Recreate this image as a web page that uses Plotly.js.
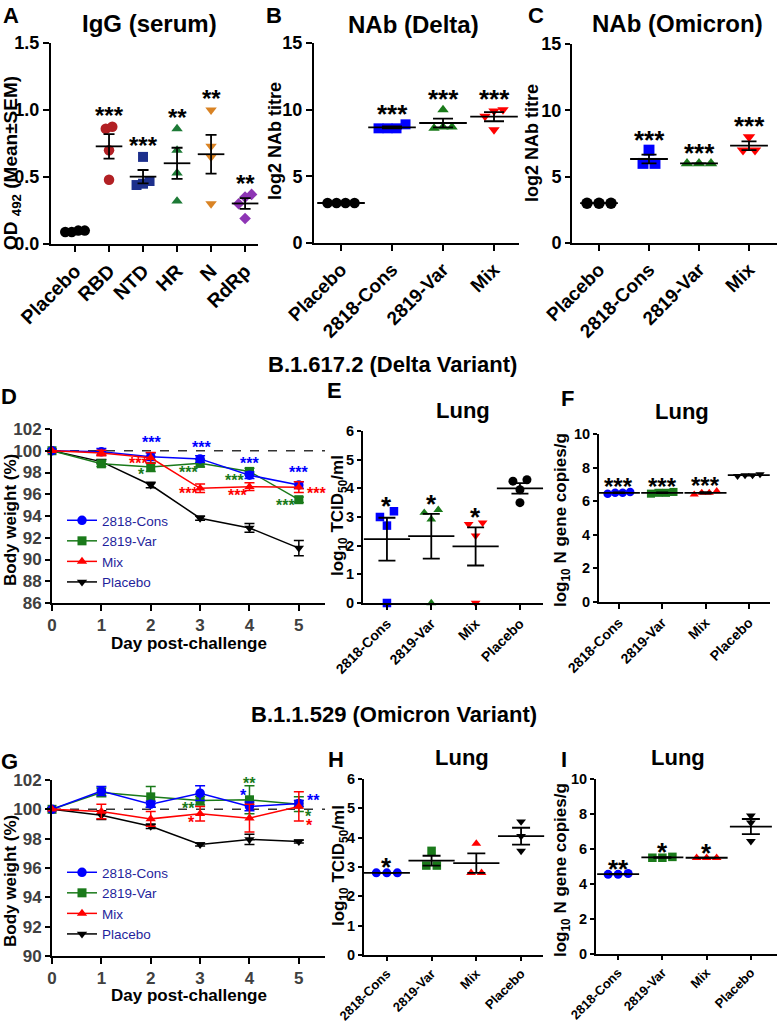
<!DOCTYPE html>
<html><head><meta charset="utf-8">
<script src="https://cdn.plot.ly/plotly-3.0.1.min.js"></script>
<style>html,body{margin:0;padding:0;background:#fff}#chart{width:778px;height:1021px}</style>
</head><body><div id="chart"></div>
<script>
const W = 778, H = 1021;
const FONT = '"Liberation Sans", Arial, Helvetica, sans-serif';

// ===== DATA =====
// Panel A: IgG (serum), OD492
const catsA = ['Placebo', 'RBD', 'NTD', 'HR', 'N', 'RdRp'];
const iggPlacebo = [0.10, 0.09, 0.09, 0.10];
const iggRBD = [0.86, 0.875, 0.70, 0.48];
const iggNTD = [0.65, 0.47, 0.45, 0.44];
const iggHR = [0.86, 0.70, 0.53, 0.32];
const iggN = [1.00, 0.73, 0.65, 0.30];
const iggRdRp = [0.35, 0.37, 0.30, 0.19];
const sigA = ['', '***', '***', '**', '**', '**'];

// Panel B: NAb (Delta), log2 titre
const catsNAb = ['Placebo', '2818-Cons', '2819-Var', 'Mix'];
const nabDeltaPlacebo = [3, 3, 3, 3];
const nabDeltaCons = [8.6, 8.6, 8.9, 8.6];
const nabDeltaVar = [10.0, 8.7, 8.6, 8.7];
const nabDeltaMix = [10.0, 9.9, 9.5, 8.5];
const sigB = ['', '***', '***', '***'];

// Panel C: NAb (Omicron), log2 titre
const nabOmiPlacebo = [3, 3, 3];
const nabOmiCons = [7, 6, 6];
const nabOmiVar = [6, 6, 6];
const nabOmiMix = [8, 7, 7];
const sigC = ['', '***', '***', '***'];

// Panels D & G: body weight (%) by day post-challenge
const days = [0, 1, 2, 3, 4, 5];
const dayLabels = ['0', '1', '2', '3', '4', '5'];
const bodyWeightRef = 100;
const bwDeltaCons = [100, 99.9, 99.45, 99.25, 97.75, 96.85];
const bwDeltaConsErr = [0, 0.3, 0.35, 0.3, 0.3, 0.3];
const bwDeltaVar = [100, 98.8, 98.5, 98.85, 98.1, 95.5];
const bwDeltaVarErr = [0, 0.25, 0.4, 0.35, 0.3, 0.25];
const bwDeltaMix = [100, 99.8, 99.35, 96.55, 96.7, 96.65];
const bwDeltaMixErr = [0, 0.25, 0.5, 0.4, 0.35, 0.5];
const bwDeltaPlacebo = [100, 99.0, 96.85, 93.8, 92.9, 91.05];
const bwDeltaPlaceboErr = [0, 0.2, 0.25, 0.2, 0.4, 0.7];

const bwOmiCons = [100, 101.25, 100.35, 101.1, 100.2, 100.4];
const bwOmiConsErr = [0, 0.3, 0.2, 0.5, 0.3, 0.2];
const bwOmiVar = [100, 101.15, 100.85, 100.6, 100.65, 100.35];
const bwOmiVarErr = [0, 0.3, 0.7, 0.3, 0.95, 0.5];
const bwOmiMix = [100, 99.85, 99.35, 99.7, 99.4, 100.2];
const bwOmiMixErr = [0, 0.5, 0.5, 0.5, 0.95, 1.0];
const bwOmiPlacebo = [100, 99.6, 98.85, 97.6, 97.95, 97.8];
const bwOmiPlaceboErr = [0, 0.3, 0.15, 0.1, 0.35, 0.1];

// Significance labels on the body weight panels
const sigD = [
  {g: 'cons', t: '***', x: 2.02, y: 101.15}, {g: 'cons', t: '***', x: 3.02, y: 100.68},
  {g: 'cons', t: '***', x: 4.0, y: 99.15}, {g: 'cons', t: '***', x: 5.0, y: 98.38},
  {g: 'mix', t: '***', x: 1.75, y: 99.15}, {g: 'var', t: '*', x: 1.82, y: 98.17},
  {g: 'var', t: '***', x: 2.76, y: 98.38}, {g: 'mix', t: '***', x: 2.76, y: 96.4},
  {g: 'var', t: '***', x: 3.70, y: 97.6}, {g: 'mix', t: '***', x: 3.75, y: 96.2},
  {g: 'var', t: '***', x: 4.72, y: 95.3}, {g: 'mix', t: '***', x: 5.36, y: 96.45}
];
const sigG = [
  {g: 'cons', t: '***', x: 3.06, y: 102.07}, {g: 'var', t: '**', x: 4.0, y: 102.0},
  {g: 'cons', t: '*', x: 3.87, y: 101.2}, {g: 'var', t: '**', x: 2.76, y: 100.3},
  {g: 'mix', t: '*', x: 2.83, y: 99.39}, {g: 'cons', t: '**', x: 5.29, y: 100.86},
  {g: 'var', t: '*', x: 5.19, y: 99.77}, {g: 'mix', t: '*', x: 5.21, y: 99.16}
];

// Panels E & H: lung log10 TCID50/ml ; F & I: lung log10 N gene copies/g
const catsLung = ['2818-Cons', '2819-Var', 'Mix', 'Placebo'];
const tcidDeltaCons = [3.0, 3.2, 2.7, 0];
const tcidDeltaVar = [3.15, 3.25, 2.92, 0];
const tcidDeltaMix = [2.75, 2.8, 2.35, 0];
const tcidDeltaPlacebo = [4.25, 4.3, 3.95, 3.5];
const sigE = ['*', '*', '*', ''];

const ngDeltaCons = [6.5, 6.45, 6.55, 6.5];
const ngDeltaVar = [6.5, 6.45, 6.55, 6.5];
const ngDeltaMix = [6.5, 6.4, 6.6, 6.5];
const ngDeltaPlacebo = [7.55, 7.5, 7.6, 7.55];
const sigF = ['***', '***', '***', ''];

const tcidOmiCons = [2.8, 2.8, 2.8];
const tcidOmiVar = [3.55, 3.05, 3.05];
const tcidOmiMix = [3.8, 2.8, 2.8];
const tcidOmiPlacebo = [4.55, 4.05, 3.55];
const sigH = ['*', '', '', ''];

const ngOmiCons = [4.6, 4.55, 4.55];
const ngOmiVar = [5.55, 5.5, 5.5];
const ngOmiMix = [5.5, 5.5, 5.5];
const ngOmiPlacebo = [7.9, 7.5, 6.45];
const sigI = ['**', '*', '*', ''];

// ===== STYLE =====
const COL = {cons: '#0000ff', var: '#1a7a1a', mix: '#ff0000', placebo: '#000000'};
const colA = ['#000000', '#b22024', '#1c2f8c', '#1d7a36', '#d98324', '#8e35b5'];
const SYM_SCALE = {'circle': 1, 'square': 0.95, 'triangle-up': 0.95, 'triangle-down': 0.95, 'diamond': 0.85};

const mean = a => a.reduce((s, v) => s + v, 0) / a.length;
const sem = a => { const m = mean(a); return Math.sqrt(a.reduce((s, v) => s + (v - m) * (v - m), 0) / (a.length - 1)) / Math.sqrt(a.length); };

function swarm(vals, center, ppy, ppx, spacingPx, thrPx) {
  const idx = vals.map((v, i) => i).sort((a, b) => vals[a] - vals[b] || a - b);
  const clusters = []; let cur = [idx[0]];
  for (let k = 1; k < idx.length; k++) {
    const i = idx[k], p = cur[cur.length - 1];
    if ((vals[i] - vals[p]) * ppy < thrPx) cur.push(i); else { clusters.push(cur); cur = [i]; }
  }
  clusters.push(cur);
  const xs = new Array(vals.length);
  clusters.forEach(c => c.forEach((i, k) => { xs[i] = center + (k - (c.length - 1) / 2) * spacingPx / ppx; }));
  return xs;
}

const axName = id => (id[0] === 'x' ? 'xaxis' : 'yaxis') + id.slice(1);
const data = [], annotations = [], shapes = [];
const layout = {
  width: W, height: H, margin: {l: 0, r: 0, t: 0, b: 0}, paper_bgcolor: '#fff', plot_bgcolor: '#fff',
  font: {family: FONT, color: '#000'}, showlegend: true, hovermode: false
};

function baseAxis(o) {
  return Object.assign({
    showline: true, linecolor: '#000', linewidth: 2, ticks: 'outside', ticklen: 6, tickwidth: 2, tickcolor: '#000',
    showgrid: false, zeroline: false, fixedrange: true, automargin: false
  }, o);
}
function setAxes(p, xo, yo) {
  layout[axName(p.xa)] = baseAxis(Object.assign({anchor: p.ya, domain: [p.px[0] / W, p.px[1] / W], range: p.xr}, xo));
  layout[axName(p.ya)] = baseAxis(Object.assign({anchor: p.xa, domain: [1 - p.py[1] / H, 1 - p.py[0] / H], range: p.yr}, yo));
}

function addDotPanel(p) {
  const ppx = (p.px[1] - p.px[0]) / (p.xr[1] - p.xr[0]);
  const ppy = (p.py[1] - p.py[0]) / (p.yr[1] - p.yr[0]);
  const means = [], sems = [];
  p.groups.forEach((vals, i) => {
    const sym = p.symbols[i];
    data.push({
      type: 'scatter', mode: 'markers', x: swarm(vals, i, ppy, ppx, p.spacing, p.msize * 0.65), y: vals,
      xaxis: p.xa, yaxis: p.ya, showlegend: false, cliponaxis: false,
      marker: {symbol: sym, color: p.colors[i], size: p.msize * SYM_SCALE[sym], line: {width: 0}}
    });
    means.push(mean(vals)); sems.push(sem(vals));
  });
  data.push({
    type: 'scatter', mode: 'markers', x: p.groups.map((_, i) => i), y: means, xaxis: p.xa, yaxis: p.ya,
    showlegend: false, cliponaxis: false,
    marker: {symbol: 'line-ew', size: p.meanW, color: '#000', line: {width: 1.8, color: '#000'}},
    error_y: {type: 'data', array: sems, visible: true, color: '#000', thickness: 1.8, width: p.capW}
  });
  p.sig.forEach((s, i) => {
    if (!s) return;
    annotations.push({
      xref: p.xa, yref: p.ya, x: i, y: Math.max(...p.groups[i]), text: s, showarrow: false,
      xanchor: 'center', yanchor: 'middle', yshift: p.sigGap - p.starSize * 0.245,
      font: {family: FONT, size: p.starSize, color: '#000', weight: 'bold'}
    });
  });
  setAxes(p,
    {tickvals: p.cats.map((_, i) => i), ticktext: p.cats, tickangle: -45, ticklen: p.xticklen || 6,
     tickfont: {family: FONT, size: p.xtick, color: '#000', weight: 'bold'}},
    {dtick: p.dtick, tick0: 0, tickformat: p.tickformat || '', ticklen: p.yticklen || 6,
     tickfont: {family: FONT, size: p.ytick, color: '#000', weight: 'bold'}});
}

const sym4 = ['circle', 'square', 'triangle-up', 'triangle-down'];
const colNAb = [COL.placebo, COL.cons, COL.var, COL.mix];
const colLung = [COL.cons, COL.var, COL.mix, COL.placebo];

addDotPanel({xa: 'x', ya: 'y', px: [51, 258], py: [43, 244], xr: [-0.706, 5.38], yr: [0, 1.5], dtick: 0.5, tickformat: '.1f',
  cats: catsA, groups: [iggPlacebo, iggRBD, iggNTD, iggHR, iggN, iggRdRp], colors: colA,
  symbols: ['circle', 'circle', 'square', 'triangle-up', 'triangle-down', 'diamond'],
  msize: 10.5, spacing: 6.5, meanW: 19, capW: 5.5, sig: sigA, sigGap: 17, starSize: 24, xtick: 19.5, ytick: 18});
addDotPanel({xa: 'x2', ya: 'y2', px: [314, 519], py: [43, 243], xr: [-0.53, 3.49], yr: [0, 15], dtick: 5,
  cats: catsNAb, groups: [nabDeltaPlacebo, nabDeltaCons, nabDeltaVar, nabDeltaMix], colors: colNAb, symbols: sym4,
  msize: 10.5, spacing: 9, meanW: 34, capW: 10, sig: sigB, sigGap: 17, starSize: 26, xtick: 19, ytick: 18});
addDotPanel({xa: 'x3', ya: 'y3', px: [572, 777], py: [44, 243], xr: [-0.54, 3.56], yr: [0, 15], dtick: 5,
  cats: catsNAb, groups: [nabOmiPlacebo, nabOmiCons, nabOmiVar, nabOmiMix], colors: colNAb, symbols: sym4,
  msize: 11.5, spacing: 12, meanW: 27, capW: 7.5, sig: sigC, sigGap: 17, starSize: 26, xtick: 19, ytick: 18, yticklen: 5});
addDotPanel({xa: 'x5', ya: 'y5', px: [363, 543], py: [431, 603], xr: [-0.54, 3.52], yr: [0, 6], dtick: 1,
  cats: catsLung, groups: [tcidDeltaCons, tcidDeltaVar, tcidDeltaMix, tcidDeltaPlacebo], colors: colLung,
  symbols: ['square', 'triangle-up', 'triangle-down', 'circle'],
  msize: 9, spacing: 14, meanW: 33, capW: 8.5, sig: sigE, sigGap: 12, starSize: 26, xtick: 14, ytick: 14.5, yticklen: 4, xticklen: 5});
addDotPanel({xa: 'x6', ya: 'y6', px: [599, 770], py: [434, 602], xr: [-0.46, 3.49], yr: [0, 10], dtick: 2,
  cats: catsLung, groups: [ngDeltaCons, ngDeltaVar, ngDeltaMix, ngDeltaPlacebo], colors: colLung, symbols: sym4,
  msize: 8.5, spacing: 7.5, meanW: 30, capW: 6, sig: sigF, sigGap: 11, starSize: 24, xtick: 14, ytick: 14.5, yticklen: 4, xticklen: 5});
addDotPanel({xa: 'x8', ya: 'y8', px: [364, 543], py: [779, 955], xr: [-0.51, 3.49], yr: [0, 6], dtick: 1,
  cats: catsLung, groups: [tcidOmiCons, tcidOmiVar, tcidOmiMix, tcidOmiPlacebo], colors: colLung, symbols: sym4,
  msize: 9, spacing: 10.5, meanW: 33, capW: 9, sig: sigH, sigGap: 12, starSize: 26, xtick: 13, ytick: 14.5, yticklen: 4, xticklen: 4});
addDotPanel({xa: 'x9', ya: 'y9', px: [596, 777], py: [779, 954], xr: [-0.50, 3.59], yr: [0, 10], dtick: 2,
  cats: catsLung, groups: [ngOmiCons, ngOmiVar, ngOmiMix, ngOmiPlacebo], colors: colLung, symbols: sym4,
  msize: 9, spacing: 10, meanW: 30, capW: 9, sig: sigI, sigGap: 11, starSize: 26, xtick: 13, ytick: 14.5, yticklen: 4, xticklen: 4});

// ===== Body weight panels =====
function addBWPanel(p) {
  const series = [
    {key: 'placebo', name: 'Placebo', y: p.placebo, e: p.placeboErr, sym: 'triangle-down', rank: 4},
    {key: 'var', name: '2819-Var', y: p.var, e: p.varErr, sym: 'square', rank: 2},
    {key: 'cons', name: '2818-Cons', y: p.cons, e: p.consErr, sym: 'circle', rank: 1},
    {key: 'mix', name: 'Mix', y: p.mix, e: p.mixErr, sym: 'triangle-up', rank: 3}
  ];
  series.forEach(s => {
    data.push({
      type: 'scatter', mode: 'lines+markers', x: days, y: s.y, name: s.name, legend: p.legend, legendrank: s.rank,
      xaxis: p.xa, yaxis: p.ya, cliponaxis: false,
      line: {color: COL[s.key], width: 1.5},
      marker: {symbol: s.sym, color: COL[s.key], size: 9.5 * SYM_SCALE[s.sym], line: {width: 0}},
      error_y: {type: 'data', array: s.e, visible: true, color: COL[s.key], thickness: 1.5, width: 5}
    });
  });
  shapes.push({type: 'line', xref: p.xa + ' domain', yref: p.ya, x0: 0, x1: 1, y0: bodyWeightRef, y1: bodyWeightRef,
    line: {color: '#333', width: 1.5, dash: 'dash'}, layer: 'below'});
  p.sig.forEach(s => annotations.push({
    xref: p.xa, yref: p.ya, x: s.x, y: s.y, text: s.t, showarrow: false, xanchor: 'center', yanchor: 'middle',
    yshift: -16 * 0.245, font: {family: FONT, size: 16, color: COL[s.g], weight: 'bold'}
  }));
  const tf = {family: FONT, size: 17, color: '#404040', weight: 'bold'};
  setAxes(p, {tickvals: days, ticktext: dayLabels, tickfont: tf},
             {dtick: 2, tick0: p.yr[0], tickfont: tf, ticklen: 5});
}
addBWPanel({xa: 'x4', ya: 'y4', px: [52, 325], py: [429, 603], xr: [0, 5.53], yr: [86, 102], legend: 'legend',
  cons: bwDeltaCons, consErr: bwDeltaConsErr, var: bwDeltaVar, varErr: bwDeltaVarErr,
  mix: bwDeltaMix, mixErr: bwDeltaMixErr, placebo: bwDeltaPlacebo, placeboErr: bwDeltaPlaceboErr, sig: sigD});
addBWPanel({xa: 'x7', ya: 'y7', px: [52, 325], py: [780, 956], xr: [0, 5.53], yr: [90, 102], legend: 'legend2',
  cons: bwOmiCons, consErr: bwOmiConsErr, var: bwOmiVar, varErr: bwOmiVarErr,
  mix: bwOmiMix, mixErr: bwOmiMixErr, placebo: bwOmiPlacebo, placeboErr: bwOmiPlaceboErr, sig: sigG});

const legendStyle = {xanchor: 'left', yanchor: 'top', bgcolor: 'rgba(0,0,0,0)', borderwidth: 0,
  font: {family: FONT, size: 13.5, color: '#1f1f9c'}, itemwidth: 30, tracegroupgap: 0};
layout.legend = Object.assign({x: 62 / W, y: 1 - 505 / H}, legendStyle);
layout.legend2 = Object.assign({x: 62 / W, y: 1 - 857 / H}, legendStyle);

// ===== Text =====
function txt(text, xpx, ypx, size, o) {
  return Object.assign({xref: 'paper', yref: 'paper', x: xpx / W, y: 1 - ypx / H, text: text, showarrow: false,
    xanchor: 'center', yanchor: 'middle', font: {family: FONT, size: size, color: '#000', weight: 'bold'}}, o || {});
}
const V = {textangle: -90};
annotations.push(
  txt('A', 11, 16, 22), txt('B', 274, 15, 22), txt('C', 536, 16, 22),
  txt('D', 9, 396, 22), txt('E', 334, 391, 22), txt('F', 567, 398, 22),
  txt('G', 9, 761, 22), txt('H', 336, 759, 22), txt('I', 564, 759, 22),
  txt('IgG (serum)', 149, 23, 24), txt('NAb (Delta)', 413, 24, 24), txt('NAb (Omicron)', 677, 23, 24),
  txt('Lung', 463, 411, 22), txt('Lung', 682, 412, 22), txt('Lung', 462, 757, 22), txt('Lung', 678, 757, 22),
  txt('B.1.617.2 (Delta Variant)', 392, 364, 22), txt('B.1.1.529 (Omicron Variant)', 394, 714, 22),
  txt('OD <sub>492</sub> <span style="font-size:19px">(Mean±SEM)</span>', 12, 163, 19, V),
  txt('log2 NAb titre', 275, 141, 18, V), txt('log2 NAb titre', 532, 143, 18, V),
  txt('Body weight (%)', 10, 520, 17, V), txt('Day post-challenge', 189, 643, 17),
  txt('Body weight (%)', 10, 881, 17, V), txt('Day post-challenge', 189, 995, 17),
  txt('log<sub>10</sub> TCID<sub>50</sub>/ml', 339, 516, 17, V),
  txt('log<sub>10</sub> N gene copies/g', 562, 520, 17, V),
  txt('log<sub>10</sub> TCID<sub>50</sub>/ml', 340, 866, 17, V),
  txt('log<sub>10</sub> N gene copies/g', 562, 870, 17, V)
);
layout.annotations = annotations;
layout.shapes = shapes;

Plotly.newPlot('chart', data, layout, {staticPlot: true, displayModeBar: false});
</script></body></html>
